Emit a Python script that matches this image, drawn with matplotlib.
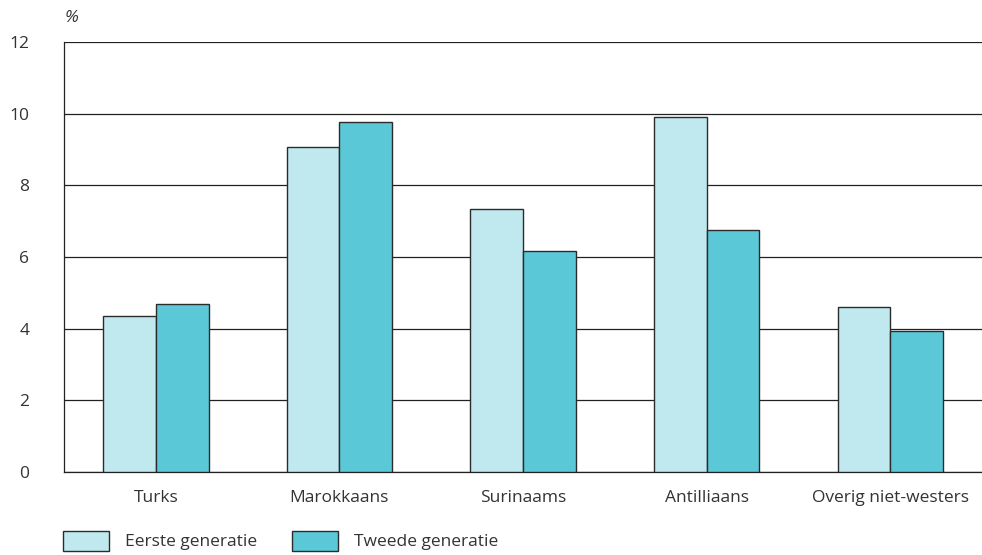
import numpy as np
import matplotlib.pyplot as plt
from matplotlib.patches import Patch

plt.rcParams['font.family'] = ['Open Sans', 'DejaVu Sans']

# ─── Data ─────────────────────────────────────────────────────────────────────
categories = ['Turks', 'Marokkaans', 'Surinaams', 'Antilliaans', 'Overig niet-westers']
eerste = [4.36, 9.08, 7.33, 9.90, 4.61]
tweede = [4.69, 9.77, 6.16, 6.76, 3.93]
series_labels = ['Eerste generatie', 'Tweede generatie']
yticks = [0, 2, 4, 6, 8, 10, 12]
# ──────────────────────────────────────────────────────────────────────────────

C_LIGHT = '#c0e9ef'
C_DARK = '#5bc8d8'
EDGE = '#2b2b2b'
TEXT = '#333333'
FS = 12.5

fig = plt.figure(figsize=(9.82, 5.55), dpi=100)
ax = fig.add_axes([0.0652, 0.150, 0.9348, 0.7738])

x = np.arange(len(categories))
w = 0.287
ax.bar(x - w / 2, eerste, w, color=C_LIGHT, edgecolor=EDGE, linewidth=1.0, zorder=3)
ax.bar(x + w / 2, tweede, w, color=C_DARK, edgecolor=EDGE, linewidth=1.0, zorder=3)

ax.set_xlim(-0.5, len(categories) - 0.5)
ax.set_ylim(0, 12)
ax.set_yticks(yticks)
ax.set_yticklabels([str(t) for t in yticks], fontsize=FS, color=TEXT)
ax.set_xticks(x)
ax.set_xticklabels(categories, fontsize=FS, color=TEXT)
ax.tick_params(axis='both', length=0)
ax.tick_params(axis='y', pad=25)
ax.tick_params(axis='x', pad=13)

ax.grid(axis='y', color='#222222', linewidth=0.9, zorder=0)
for s in ['top', 'right']:
    ax.spines[s].set_visible(False)
for s in ['left', 'bottom']:
    ax.spines[s].set_color('#222222')
    ax.spines[s].set_linewidth(0.9)

fig.text(0.066, 0.968, '%', fontsize=FS, style='italic', color=TEXT, va='center', ha='left')

handles = [Patch(facecolor=C_LIGHT, edgecolor=EDGE, linewidth=1.0),
           Patch(facecolor=C_DARK, edgecolor=EDGE, linewidth=1.0)]
fig.legend(handles, series_labels, loc='lower left', bbox_to_anchor=(0.0642, 0.008),
           ncol=2, frameon=False, fontsize=FS, handlelength=2.65, handleheight=1.38,
           handletextpad=0.92, columnspacing=2.0, borderpad=0, borderaxespad=0,
           labelcolor=TEXT)

fig.savefig('out.png', dpi=100)
